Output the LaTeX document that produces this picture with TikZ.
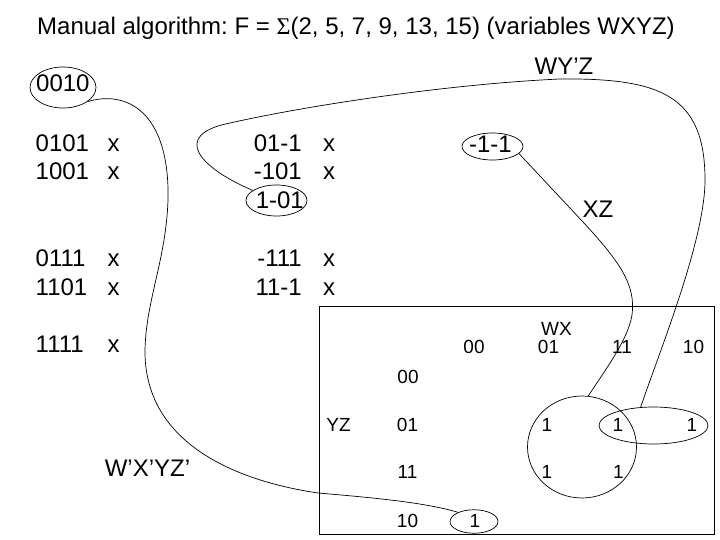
\documentclass[tikz,border=0pt]{standalone}
\usepackage{fontspec}
\setmainfont{Liberation Sans}
\newfontfamily\symfont{Liberation Serif}
\usetikzlibrary{shapes.geometric}
\frenchspacing
\begin{document}
\begin{tikzpicture}[x=1pt,y=-1pt,
  txt/.style={inner sep=0pt,anchor=base,font=\fontsize{24}{28}\selectfont},
  km/.style={inner sep=0pt,anchor=base,font=\fontsize{19}{23}\selectfont},
  ring/.style={draw,ellipse,inner sep=0pt,line width=0.7pt},
  link/.style={line width=0.7pt},
  kbox/.style={draw,line width=1pt}]
\useasboundingbox (0,0) rectangle (720,540);
% title
\node[txt,anchor=base west] (title) at (37,34.5) {\frenchspacing Manual algorithm: F = {\symfont Σ}(2, 5, 7, 9, 13, 15) (variables WXYZ)};
% column 1
\node[ring,minimum width=66pt,minimum height=41pt] (e0010) at (63,87.5) {};
\node[txt,anchor=base west] (t0010) at (36,92) {0010};
\node[txt,anchor=base west] (a1) at (35.5,151.7) {0101};
\node[txt] (x1) at (113.5,151.7) {x};
\node[txt,anchor=base west] (a2) at (35.5,180) {1001};
\node[txt] (x2) at (113.5,180) {x};
\node[txt,anchor=base west] (a3) at (35.5,266) {0111};
\node[txt] (x3) at (113.5,266) {x};
\node[txt,anchor=base west] (a4) at (35.5,295) {1101};
\node[txt] (x4) at (113.5,295) {x};
\node[txt,anchor=base west] (a5) at (35.5,352.3) {1111};
\node[txt] (x5) at (113.5,352.3) {x};
% column 2
\node[txt,anchor=base east] (b1) at (302,151.7) {01-1};
\node[txt] (y1) at (329,151.7) {x};
\node[txt,anchor=base east] (b2) at (302,180) {-101};
\node[txt] (y2) at (329,180) {x};
\node[ring,minimum width=61pt,minimum height=31pt] (e101) at (276.5,200.5) {};
\node[txt,anchor=base east] (t101) at (304,208) {1-01};
\node[txt,anchor=base east] (b3) at (302,266) {-111};
\node[txt] (y3) at (329,266) {x};
\node[txt,anchor=base east] (b4) at (302,295) {11-1};
\node[txt] (y4) at (329,295) {x};
% column 3
\node[ring,minimum width=61pt,minimum height=27pt] (e11) at (492.5,146.5) {};
\node[txt,anchor=base east] (t11) at (512,152.5) {-1-1};
% labels of curves
\node[txt] (lwyz) at (564,75) {WY’Z};
\node[txt] (lxz) at (598,218) {XZ};
\node[txt] (lwx) at (147.5,476.5) {W’X’YZ’};
% K-map
\draw[kbox] (319,306) rectangle (714,534);
\node[km] (hwx) at (556.5,335) {WX};
\node[km] (c00) at (474,353) {00};
\node[km] (c01) at (548.5,353) {01};
\node[km] (c11) at (622,353) {11};
\node[km] (c10) at (693.5,353) {10};
\node[km] (r00) at (408,383) {00};
\node[km] (hyz) at (338.5,431) {YZ};
\node[km] (r01) at (407.5,431) {01};
\node[km] (r11) at (407.5,478) {11};
\node[km] (r10) at (407.5,527) {10};
\node[km] (m5) at (547,431) {1};
\node[km] (m13) at (618,431) {1};
\node[km] (m9) at (692,431) {1};
\node[km] (m7) at (547,478) {1};
\node[km] (m15) at (618.5,478) {1};
\node[km] (m2) at (475,527) {1};
\node[ring,minimum width=109pt,minimum height=102pt] (bigc) at (582,447) {};
\node[ring,minimum width=109pt,minimum height=37pt] (e01r) at (653.5,425.5) {};
\node[ring,minimum width=48pt,minimum height=23.5pt] (e10) at (474,521.5) {};
% connectors
\draw[link] (e0010.-30) .. controls (125,90) and (170,110) .. (168,200)
  .. controls (166,260) and (146,300) .. (145,350)
  .. controls (144,440) and (230,480) .. (318,493)
  .. controls (390,499) and (430,504) .. (e10.150);
\draw[link] (e101.157) .. controls (200,168) and (170,135) .. (230,123)
  .. controls (310,105) and (450,84) .. (560,79)
  .. controls (660,78) and (705,95) .. (705,180)
  .. controls (705,240) and (660,350) .. (e01r.125);
\draw[link] (e11.-15) -- (583,222)
  .. controls (620,262) and (636,285) .. (632,315)
  .. controls (628,340) and (605,370) .. (bigc.83);
\end{tikzpicture}
\end{document}
